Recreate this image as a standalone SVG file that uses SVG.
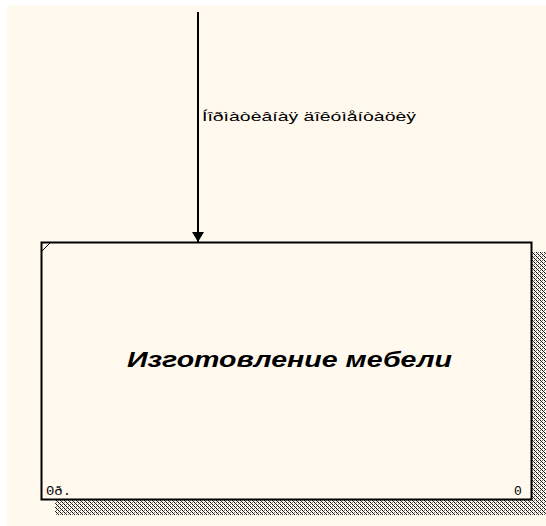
<svg xmlns="http://www.w3.org/2000/svg" width="546" height="526" viewBox="0 0 546 526">
<style>
.lbl{font-family:"Liberation Sans",Arial,sans-serif;font-size:13px;fill:#000}
.title{font-family:"Liberation Sans",Arial,sans-serif;font-size:22px;font-weight:bold;font-style:italic;fill:#000}
.small{font-family:"Liberation Mono","DejaVu Sans Mono",monospace;font-size:13px;fill:#000}
</style>
<defs>
<pattern id="hatch" width="4" height="4" patternUnits="userSpaceOnUse">
<rect x="0" y="0" width="1" height="1" fill="#000"/>
<rect x="1" y="1" width="1" height="1" fill="#333"/>
<rect x="2" y="2" width="1" height="1" fill="#000"/>
<rect x="3" y="3" width="1" height="1" fill="#333"/>
<rect x="2" y="0" width="1" height="1" fill="#777"/>
<rect x="0" y="2" width="1" height="1" fill="#777"/>
</pattern>
<marker id="arr" markerWidth="10" markerHeight="12" refX="10" refY="6" orient="auto" markerUnits="userSpaceOnUse" viewBox="0 0 10 12">
<path d="M0,0 L10,6 L0,12 Z" fill="#000"/>
</marker>
</defs>
<rect x="0" y="0" width="546" height="526" fill="#fff"/>
<rect x="7" y="6" width="539" height="520" fill="#FFF9EE"/>
<g id="node-0">
<rect x="55" y="500" width="491" height="15" fill="url(#hatch)"/>
<rect x="532" y="252" width="14" height="263" fill="url(#hatch)"/>
<rect x="41.5" y="242.5" width="490" height="257" fill="#FFF9EE" stroke="#000" stroke-width="2"/>
<line x1="42" y1="251" x2="50" y2="243" stroke="#000" stroke-width="1"/>
<text class="title" x="127" y="367" textLength="325" lengthAdjust="spacingAndGlyphs">Изготовление мебели</text>
<text class="small" x="46" y="495" textLength="25" lengthAdjust="spacingAndGlyphs">0ð.</text>
<text class="small" x="514" y="495">0</text>
</g>
<g id="connectors">
<line x1="198" y1="12" x2="198" y2="242" stroke="#000" stroke-width="2" marker-end="url(#arr)"/>
<text class="lbl" x="202" y="121" textLength="214" lengthAdjust="spacingAndGlyphs">Íîðìàòèâíàÿ äîêóìåíòàöèÿ</text>
</g>
</svg>
